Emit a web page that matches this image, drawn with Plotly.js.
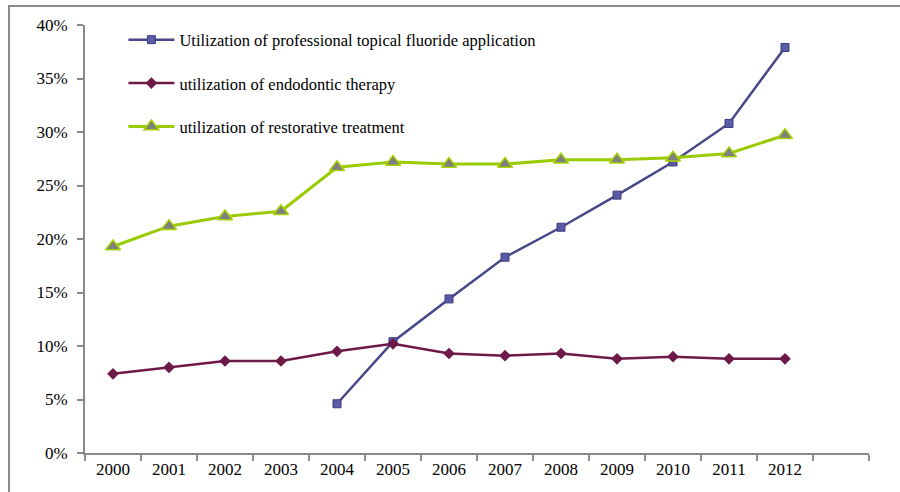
<!DOCTYPE html>
<html>
<head>
<meta charset="utf-8">
<script src="https://cdn.plot.ly/plotly-3.0.1.min.js"></script>
<style>
  html, body { margin: 0; padding: 0; background: #fff; }
  #wrap { position: relative; width: 900px; height: 492px; }
  #chart { position: absolute; left: 0; top: 0; width: 900px; height: 492px; }
  #frame { position: absolute; left: 8px; top: 5px; right: 0; bottom: 0;
           border-top: 2px solid #8a8a8a; border-left: 2px solid #8a8a8a; pointer-events: none; }
</style>
</head>
<body>
<div id="wrap">
  <div id="chart"></div>
  <div id="frame"></div>
</div>
<script>
const years = [2000, 2001, 2002, 2003, 2004, 2005, 2006, 2007, 2008, 2009, 2010, 2011, 2012];
const yearLabels = ['2000','2001','2002','2003','2004','2005','2006','2007','2008','2009','2010','2011','2012'];
const fluoride = [null, null, null, null, 0.046, 0.104, 0.144, 0.183, 0.211, 0.241, 0.272, 0.308, 0.379];
const endodontic = [0.074, 0.080, 0.086, 0.086, 0.095, 0.102, 0.093, 0.091, 0.093, 0.088, 0.090, 0.088, 0.088];
const restorative = [0.193, 0.212, 0.221, 0.226, 0.267, 0.272, 0.270, 0.270, 0.274, 0.274, 0.276, 0.280, 0.297];
const names = [
  'Utilization of professional topical fluoride application',
  'utilization of endodontic therapy',
  'utilization of restorative treatment'
];
const yTicks = [0, 0.05, 0.10, 0.15, 0.20, 0.25, 0.30, 0.35, 0.40];

const serif = 'Liberation Serif, Times New Roman, serif';

const traces = [
  {
    x: years, y: fluoride, name: names[0], mode: 'lines+markers', legendgroup: 'a',
    line: { color: '#47478a', width: 2.5 },
    marker: { symbol: 'square', size: 8, color: '#5a5aa6', line: { color: '#3d3d80', width: 1 } }
  },
  {
    x: years, y: endodontic, name: names[1], mode: 'lines+markers', legendgroup: 'b',
    line: { color: '#6e1a48', width: 2.5 },
    marker: { symbol: 'diamond', size: 9, color: '#6e1a48' }
  },
  {
    x: years, y: restorative, name: names[2], mode: 'lines+markers', legendgroup: 'c',
    line: { color: '#99cc00', width: 3 },
    marker: { symbol: 'triangle-up', size: 13, color: '#7f7f7f', line: { color: '#a6d400', width: 1.5 } }
  }
];

const layout = {
  width: 900, height: 492,
  margin: { l: 85, r: 31, t: 25, b: 39 },
  paper_bgcolor: '#ffffff', plot_bgcolor: '#ffffff',
  showlegend: true,
  legend: {
    x: 0.049, y: 1.006, xanchor: 'left', yanchor: 'top',
    bgcolor: 'rgba(0,0,0,0)', borderwidth: 0,
    font: { family: serif, size: 16.5, color: '#000' },
    tracegroupgap: 19, itemwidth: 46
  },
  xaxis: {
    type: 'linear', range: [1999.5, 2013.5], fixedrange: true,
    tickvals: years, ticktext: yearLabels, ticks: '',
    showgrid: false, zeroline: false,
    showline: true, linecolor: '#8a8a8a', linewidth: 2,
    tickfont: { family: serif, size: 17, color: '#000' },
    minor: { ticks: 'outside', tick0: 1999.5, dtick: 1, ticklen: 6, tickwidth: 2, tickcolor: '#8a8a8a', showgrid: false }
  },
  yaxis: {
    range: [0, 0.4], fixedrange: true,
    tickvals: yTicks, tickformat: '.0%',
    ticks: 'outside', ticklen: 6, tickwidth: 2, tickcolor: '#8a8a8a',
    ticklabelstandoff: 6,
    showgrid: false, zeroline: false,
    showline: true, linecolor: '#8a8a8a', linewidth: 2,
    tickfont: { family: serif, size: 17, color: '#000' }
  }
};

Plotly.newPlot('chart', traces, layout, { staticPlot: true, displayModeBar: false });
</script>
</body>
</html>
